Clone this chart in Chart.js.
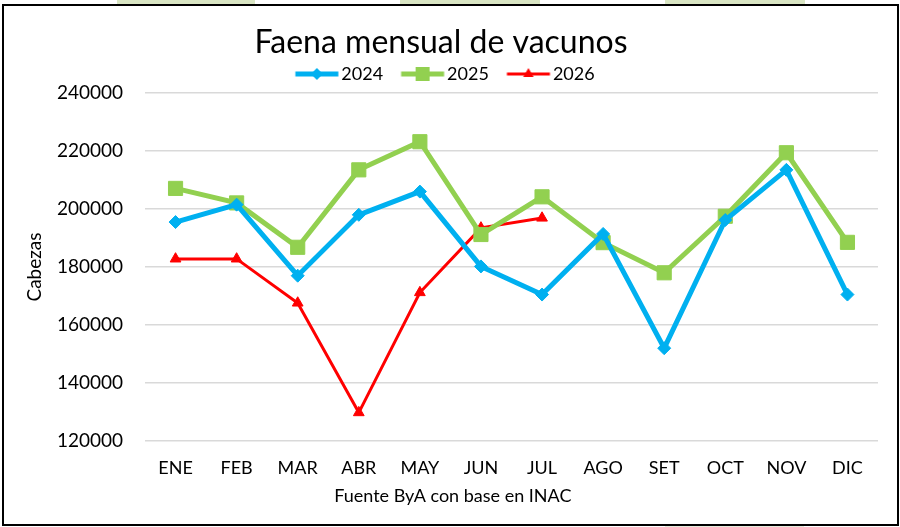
<!DOCTYPE html>
<html>
<head>
<meta charset="utf-8">
<title>Faena mensual de vacunos</title>
<script src="https://cdn.jsdelivr.net/npm/chart.js@4/dist/chart.umd.min.js"></script>
<style>
  html, body { margin: 0; padding: 0; background: #fff; overflow: hidden; }
  #wrap { position: absolute; left: 0; top: 0; width: 900px; height: 527px; }
  #frame { position: absolute; left: 2px; top: 4px; width: 897px; height: 522px;
           box-sizing: border-box; border: 2px solid #000; pointer-events: none; }
  .strip { position: absolute; height: 4px; background: #d9e5c3; }
</style>
</head>
<body>
<div class="strip" style="left:117px; top:0; width:138px;"></div>
<div class="strip" style="left:400px; top:0; width:140px;"></div>
<div class="strip" style="left:665px; top:0; width:140px;"></div>
<div class="strip" style="left:665px; top:526px; width:139px; height:1px; background:#e6eadb;"></div>
<div id="wrap"><canvas id="chart"></canvas></div>
<div id="frame"></div>
<script>
// months and monthly slaughter (cabezas)
const months = ["ENE", "FEB", "MAR", "ABR", "MAY", "JUN", "JUL", "AGO", "SET", "OCT", "NOV", "DIC"];
const faena2024 = [195500, 201500, 177000, 198000, 206000, 180200, 170500, 191400, 152000, 196200, 213500, 170500];
const faena2025 = [207100, 202100, 186800, 213500, 223200, 191200, 204200, 188400, 178000, 197500, 219400, 188500];
const faena2026 = [182800, 182800, 167600, 129800, 171200, 193500, 196900];
const yMin = 120000;
const yMax = 240000;
const yStep = 20000;
const fuente = "Fuente ByA con base en INAC";

const BLUE = "#00B0F0";
const GREEN = "#92D050";
const RED = "#FF0000";

// little line + marker picture for each legend entry
function legendIcon(color, lineW, shape, r) {
  const c = document.createElement("canvas");
  c.width = 60;
  c.height = 18;
  const g = c.getContext("2d");
  g.strokeStyle = color;
  g.fillStyle = color;
  g.lineWidth = lineW;
  g.beginPath();
  g.moveTo(15.5, 9);
  g.lineTo(58.5, 9);
  g.stroke();
  const cx = 37, cy = 9;
  g.beginPath();
  if (shape === "diamond") {
    g.moveTo(cx - r, cy); g.lineTo(cx, cy - r); g.lineTo(cx + r, cy); g.lineTo(cx, cy + r);
  } else if (shape === "square") {
    g.rect(cx - r, cy - r, 2 * r, 2 * r);
  } else {
    g.moveTo(cx, cy - r); g.lineTo(cx + r * 0.87, cy + r * 0.5); g.lineTo(cx - r * 0.87, cy + r * 0.5);
  }
  g.closePath();
  g.fill();
  return c;
}

const icons = [
  legendIcon(BLUE, 5, "diamond", 6),
  legendIcon(GREEN, 5, "square", 7),
  legendIcon(RED, 3, "triangle", 6),
];

// source note under the month labels, placed a bit left of centre like the original
const sourceNote = {
  id: "sourceNote",
  afterDraw(chart) {
    const { ctx, chartArea } = chart;
    ctx.save();
    ctx.font = "18px Lato";
    ctx.fillStyle = "#000";
    ctx.textAlign = "center";
    ctx.textBaseline = "middle";
    ctx.fillText(fuente, chartArea.left + chartArea.width * 0.42, chartArea.bottom + 55);
    ctx.restore();
  },
};

Chart.defaults.font.family = "Lato";
Chart.defaults.color = "#000";

new Chart(document.getElementById("chart"), {
  type: "line",
  data: {
    labels: months,
    datasets: [
      {
        label: "2024",
        data: faena2024,
        borderColor: BLUE,
        backgroundColor: BLUE,
        borderWidth: 5,
        pointStyle: "rectRot",
        pointRadius: 6.5,
        pointBorderWidth: 1,
      },
      {
        label: "2025",
        data: faena2025,
        borderColor: GREEN,
        backgroundColor: GREEN,
        borderWidth: 5,
        pointStyle: "rect",
        pointRadius: 10,
        pointBorderWidth: 1,
      },
      {
        label: "2026",
        data: faena2026,
        borderColor: RED,
        backgroundColor: RED,
        borderWidth: 3,
        pointStyle: "triangle",
        pointRadius: 6.2,
        pointBorderWidth: 1,
      },
    ],
  },
  plugins: [sourceNote],
  options: {
    responsive: true,
    maintainAspectRatio: false,
    animation: false,
    elements: { line: { tension: 0 } },
    layout: { padding: { top: 0, left: 4, right: 22, bottom: 6 } },
    plugins: {
      tooltip: { enabled: false },
      title: {
        display: true,
        text: "Faena mensual de vacunos",
        font: { size: 32, weight: "normal", lineHeight: 0.75 },
        padding: { top: 31, bottom: 0 },
      },
      legend: {
        position: "top",
        labels: {
          font: { size: 18 },
          padding: 10,
          usePointStyle: true,
          pointStyleWidth: 45,
          generateLabels: (chart) =>
            chart.data.datasets.map((ds, i) => ({
              text: ds.label,
              pointStyle: icons[i],
              fillStyle: ds.borderColor,
              strokeStyle: ds.borderColor,
              lineWidth: 0,
              hidden: false,
              datasetIndex: i,
            })),
        },
      },
    },
    scales: {
      x: {
        offset: true,
        grid: { display: false, drawTicks: false },
        border: { display: false },
        ticks: { font: { size: 18 }, padding: 16.5 },
        afterFit: (scale) => { scale.height = 80; },
      },
      y: {
        min: yMin,
        max: yMax,
        grid: { color: "#d9d9d9", lineWidth: 1.5, drawTicks: false },
        border: { display: false },
        ticks: { stepSize: yStep, font: { size: 19 }, padding: 22, callback: (v) => String(v) },
        title: {
          display: true,
          text: "Cabezas",
          font: { size: 19 },
          padding: { top: 19.6, bottom: 0 },
        },
        afterFit: (scale) => { scale.width = 141; },
      },
    },
  },
});
</script>
</body>
</html>
